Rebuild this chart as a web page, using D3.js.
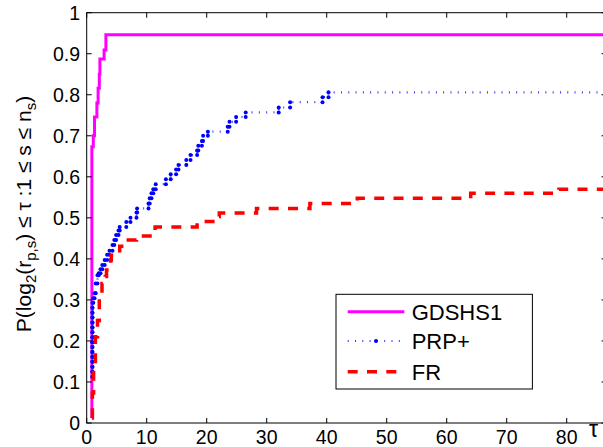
<!DOCTYPE html>
<html><head><meta charset="utf-8">
<script src="https://cdn.jsdelivr.net/npm/d3@7/dist/d3.min.js"></script>
<style>body{margin:0;background:#fff} text{font-family:"Liberation Sans",Arial,Helvetica,sans-serif}</style>
</head><body><svg id="c" width="603" height="447"></svg>
<script>
// ---- data ----
const seriesNames = ["GDSHS1", "PRP+", "FR"];
const xTicks = [0, 10, 20, 30, 40, 50, 60, 70, 80];
const yTicks = [0, 0.1, 0.2, 0.3, 0.4, 0.5, 0.6, 0.7, 0.8, 0.9, 1];
const yTickLabels = ["0", "0.1", "0.2", "0.3", "0.4", "0.5", "0.6", "0.7", "0.8", "0.9", "1"];

// stair-step profiles: value v[i] holds from tau[i] onwards
const gdshs1Tau = [0.85, 0.86, 1.1, 1.3, 1.7, 1.9, 2.1, 2.2, 2.9, 3.2, 87];
const gdshs1Val = [0.012, 0.673, 0.70, 0.746, 0.78, 0.816, 0.85, 0.887, 0.909, 0.946, 0.946];

const prpTau = [0.95, 0.95, 0.95, 0.95, 0.95, 0.95, 0.95, 0.95, 0.95, 0.95, 0.95, 0.95, 0.95, 0.95, 0.95, 0.95,
  1.1, 1.3, 1.5, 1.8, 2.0, 2.3, 2.6, 3.0, 3.4, 3.8, 4.3, 4.6, 4.9, 5.3, 5.5, 6.6, 7.3, 8.3, 8.4,
  10.3, 10.5, 10.8, 11.1, 11.5, 13.2, 14.0, 14.9, 15.3, 16.6, 17.3, 18.4, 18.6, 19.2, 19.4, 20.2,
  23.5, 23.8, 24.9, 26.5, 32.0, 33.9, 39.3, 40.3, 87];
const prpVal = [0.113, 0.125, 0.137, 0.149, 0.161, 0.173, 0.185, 0.197, 0.209, 0.221, 0.233, 0.245, 0.257, 0.269, 0.281, 0.293,
  0.304, 0.316, 0.34, 0.36, 0.365, 0.375, 0.385, 0.397, 0.41, 0.42, 0.434, 0.446, 0.458, 0.469, 0.478, 0.49, 0.50, 0.513, 0.523,
  0.535, 0.548, 0.56, 0.570, 0.582, 0.594, 0.606, 0.618, 0.629, 0.641, 0.653, 0.664, 0.676, 0.687, 0.70, 0.71,
  0.722, 0.734, 0.746, 0.757, 0.769, 0.782, 0.794, 0.806, 0.806];

const frTau = [0.94, 0.95, 1.15, 1.45, 1.8, 2.1, 2.55, 3.1, 3.3, 3.9, 4.0, 4.1, 4.7, 5.5, 6.2, 8.3, 11.0, 11.4,
  18.4, 21.9, 22.1, 28.3, 37.2, 45.1, 64.0, 78.7, 87];
const frVal = [0.012, 0.073, 0.137, 0.21, 0.25, 0.308, 0.34, 0.357, 0.373, 0.383, 0.397, 0.409, 0.42, 0.431, 0.446, 0.456, 0.469, 0.478,
  0.491, 0.503, 0.512, 0.523, 0.535, 0.548, 0.56, 0.57, 0.57];

// ---- layout ----
const svg = d3.select("#c");
const x = d3.scaleLinear().domain([0, 86.63]).range([86.7, 606.5]);
const y = d3.scaleLinear().domain([0, 1]).range([423, 12.7]);
const L = x.range()[0], R = x.range()[1], T = y.range()[1], B = y.range()[0];

function stairs(ts, vs) {
  const pts = [[ts[0], vs[0]]];
  for (let i = 1; i < ts.length; i++) { pts.push([ts[i], vs[i - 1]]); pts.push([ts[i], vs[i]]); }
  return pts;
}
const line = d3.line().x(d => x(d[0])).y(d => y(d[1]));

svg.append("defs").append("clipPath").attr("id", "clip")
  .append("rect").attr("x", L).attr("y", T - 3).attr("width", R - L).attr("height", B - T + 3);
const plot = svg.append("g").attr("clip-path", "url(#clip)");

const gPts = stairs(gdshs1Tau, gdshs1Val);
const pPts = stairs(prpTau, prpVal);
const fPts = stairs(frTau, frVal);

plot.append("path").attr("d", line(gPts)).attr("fill", "none")
  .attr("stroke", "#ff00ff").attr("stroke-width", 3);
plot.append("path").attr("d", line(pPts)).attr("fill", "none")
  .attr("stroke", "#3a3aff").attr("stroke-width", 2.2).attr("stroke-dasharray", "1,6.3");
plot.selectAll("circle.p").data(pPts).join("circle").attr("class", "p")
  .attr("cx", d => x(d[0])).attr("cy", d => y(d[1])).attr("r", 2).attr("fill", "#0000ff");
plot.append("path").attr("d", line(fPts)).attr("fill", "none")
  .attr("stroke", "#ff0000").attr("stroke-width", 3.5).attr("stroke-dasharray", "10,9.3");

// ---- axes (box, inward ticks) ----
const ax = svg.append("g").attr("stroke", "#000").attr("stroke-width", 1);
ax.append("rect").attr("x", L).attr("y", T).attr("width", R - L).attr("height", B - T)
  .attr("fill", "none").attr("stroke", "#000");
const tl = 5;
xTicks.forEach(t => {
  ax.append("line").attr("x1", x(t)).attr("x2", x(t)).attr("y1", B).attr("y2", B - tl);
  ax.append("line").attr("x1", x(t)).attr("x2", x(t)).attr("y1", T).attr("y2", T + tl);
});
yTicks.forEach(t => {
  ax.append("line").attr("x1", L).attr("x2", L + tl).attr("y1", y(t)).attr("y2", y(t));
  ax.append("line").attr("x1", R).attr("x2", R - tl).attr("y1", y(t)).attr("y2", y(t));
});
svg.append("g").selectAll("text").data(xTicks).join("text")
  .attr("x", d => x(d)).attr("y", 443.5).attr("text-anchor", "middle")
  .attr("font-size", 19.5).text(d => d);
svg.append("g").selectAll("text").data(yTicks).join("text")
  .attr("x", 80).attr("y", d => y(d) + 6.8).attr("text-anchor", "end")
  .attr("font-size", 19.5).text((d, i) => yTickLabels[i]);

svg.append("text").attr("x", 589).attr("y", 437).attr("font-size", 23).text("τ");

// y label
const yl = svg.append("text").attr("transform", "translate(31,214) rotate(-90)")
  .attr("text-anchor", "middle").attr("font-size", 21);
yl.append("tspan").text("P(log");
yl.append("tspan").attr("dy", 5).attr("font-size", 15).text("2");
yl.append("tspan").attr("dy", -5).text("(r");
yl.append("tspan").attr("dy", 5).attr("font-size", 15).text("p,s");
yl.append("tspan").attr("dy", -5).text(") ≤ τ :1 ≤  s ≤ n");
yl.append("tspan").attr("dy", 5).attr("font-size", 15).text("s");
yl.append("tspan").attr("dy", -5).text(")");

// ---- legend ----
const lg = svg.append("g");
lg.append("rect").attr("x", 336).attr("y", 294.3).attr("width", 196.4).attr("height", 94.7)
  .attr("fill", "#fff").attr("stroke", "#000").attr("stroke-width", 1);
const ly = [311.7, 341, 371.7];
lg.append("line").attr("x1", 347.7).attr("x2", 404.3).attr("y1", ly[0]).attr("y2", ly[0])
  .attr("stroke", "#ff00ff").attr("stroke-width", 3);
lg.append("line").attr("x1", 347.7).attr("x2", 404.3).attr("y1", ly[1]).attr("y2", ly[1])
  .attr("stroke", "#3a3aff").attr("stroke-width", 2.2).attr("stroke-dasharray", "1,6.3");
lg.append("circle").attr("cx", 376).attr("cy", ly[1]).attr("r", 2).attr("fill", "#0000ff");
lg.append("line").attr("x1", 347.7).attr("x2", 404.3).attr("y1", ly[2]).attr("y2", ly[2])
  .attr("stroke", "#ff0000").attr("stroke-width", 3.5).attr("stroke-dasharray", "10,9.3");
lg.selectAll("text.l").data(seriesNames).join("text").attr("class", "l")
  .attr("x", 411.7).attr("y", (d, i) => ly[i] + 7.8).attr("font-size", 22).text(d => d);
</script></body></html>
